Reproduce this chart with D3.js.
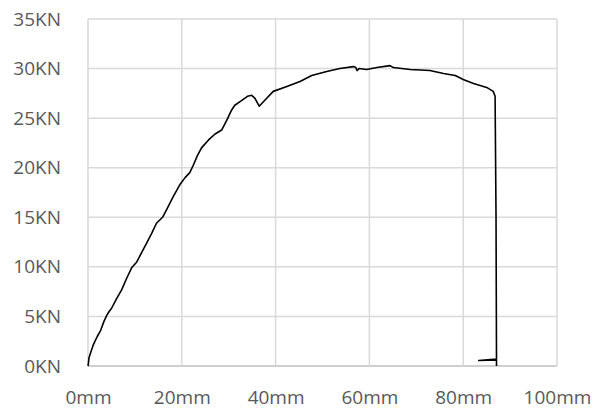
<!DOCTYPE html>
<html>
<head>
<meta charset="utf-8">
<script src="https://cdn.jsdelivr.net/npm/d3@7"></script>
<style>
  body { margin: 0; background: white; }
</style>
</head>
<body>
<script>
// displacement (mm) and force (KN)
let displacement = [0, 0.05, 0.2, 0.6, 1.1, 2.0, 2.7, 3.4, 4.0, 4.5, 5.0, 6.1, 7.2, 8.2, 9.3, 10.4, 11.4,
  12.5, 13.6, 14.6, 15.9, 16.9, 18.2, 19.6, 20.7, 21.7, 22.5, 23.3, 24.2, 25.7, 27.1, 28.5, 29.6,
  30.6, 31.3, 32.8, 34.0, 34.9, 35.6, 36.5, 37.7, 39.5, 42.4, 45.2, 47.7, 50.9, 53.7, 56.6, 57.1,
  57.4, 57.8, 59.4, 61.6, 64.4, 65.1, 68.7, 72.9, 75.8, 78.3, 80.0, 82.2, 85.0, 86.4, 86.8,
  87.0, 87.1, 83.3, 87.1, 87.1]
let force = [0, 0.1, 0.8, 1.4, 2.1, 3.0, 3.6, 4.5, 5.1, 5.5, 5.8, 6.8, 7.7, 8.8, 9.9, 10.5, 11.4,
  12.4, 13.4, 14.4, 15.0, 15.9, 17.1, 18.3, 19.0, 19.5, 20.3, 21.2, 22.0, 22.8, 23.4, 23.8, 24.8,
  25.8, 26.3, 26.8, 27.2, 27.3, 27.0, 26.2, 26.8, 27.7, 28.2, 28.7, 29.3, 29.7, 30.0, 30.2, 30.1,
  29.8, 30.0, 29.9, 30.1, 30.3, 30.1, 29.9, 29.8, 29.5, 29.3, 28.9, 28.5, 28.1, 27.7, 27.2,
  15.0, 0.7, 0.55, 0.6, 0]
let xTicks = [0, 20, 40, 60, 80, 100]
let yTicks = [0, 5, 10, 15, 20, 25, 30, 35]

let width = 600, height = 410
let x = d3.scaleLinear().domain([0, 100]).range([88, 557])
let y = d3.scaleLinear().domain([0, 35]).range([366, 19])

let svg = d3.select("body")
  .append("svg")
    .attr("width", width)
    .attr("height", height)

// gridlines
svg.append("g")
  .selectAll("line")
  .data(yTicks)
  .join("line")
    .attr("x1", x(0))
    .attr("x2", x(100))
    .attr("y1", d => y(d))
    .attr("y2", d => y(d))
    .attr("stroke", d => d == 0 ? "#bfbfbf" : "#d9d9d9")
    .attr("stroke-width", 1.5)

svg.append("g")
  .selectAll("line")
  .data(xTicks)
  .join("line")
    .attr("x1", d => x(d))
    .attr("x2", d => x(d))
    .attr("y1", y(0))
    .attr("y2", y(35))
    .attr("stroke", "#d9d9d9")
    .attr("stroke-width", 1.5)

// axes labels
let yAxis = svg.append("g")
  .attr("transform", "translate(" + (x(0) - 24) + ",0)")
  .call(d3.axisLeft(y).tickValues(yTicks).tickSize(0).tickFormat(d => d + "KN"))
yAxis.select(".domain").remove()

let xAxis = svg.append("g")
  .attr("transform", "translate(0," + (y(0) + 21) + ")")
  .call(d3.axisBottom(x).tickValues(xTicks).tickSize(0).tickFormat(d => d + "mm"))
xAxis.select(".domain").remove()

svg.selectAll(".tick text")
  .attr("font-family", "'Open Sans', sans-serif")
  .attr("font-size", 19)
  .attr("fill", "#595959")

// the curve
let points = displacement.map((d, i) => [d, force[i]])
svg.append("path")
  .datum(points)
  .attr("d", d3.line().x(d => x(d[0])).y(d => y(d[1])))
  .attr("fill", "none")
  .attr("stroke", "black")
  .attr("stroke-width", 1.6)
  .attr("stroke-linejoin", "round")
</script>
</body>
</html>
